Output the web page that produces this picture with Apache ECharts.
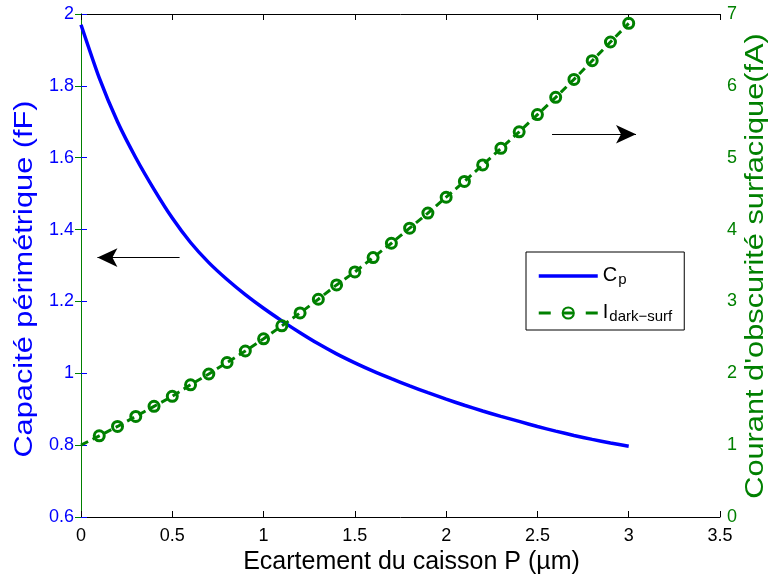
<!DOCTYPE html>
<html>
<head>
<meta charset="utf-8">
<script src="https://cdn.jsdelivr.net/npm/echarts@6/dist/echarts.min.js"></script>
<style>
  html, body { margin: 0; padding: 0; background: #ffffff; }
  #chart { width: 770px; height: 579px; }
</style>
</head>
<body>
<div id="chart"></div>
<script>
// Well spacing P (µm)
const spacing = [0, 0.1, 0.2, 0.3, 0.4, 0.5, 0.6, 0.7, 0.8, 0.9, 1.0,
                 1.1, 1.2, 1.3, 1.4, 1.5, 1.6, 1.7, 1.8, 1.9, 2.0,
                 2.1, 2.2, 2.3, 2.4, 2.5, 2.6, 2.7, 2.8, 2.9, 3.0];

// Perimeter capacitance Cp (fF)
const capacitance = [1.970, 1.822, 1.700, 1.600, 1.512, 1.432, 1.364, 1.308, 1.261, 1.219, 1.181,
                     1.146, 1.113, 1.082, 1.054, 1.029, 1.006, 0.985, 0.965, 0.946, 0.928,
                     0.911, 0.895, 0.880, 0.866, 0.852, 0.839, 0.827, 0.816, 0.806, 0.797];

// Surface dark current (fA)
const darkCurrent = [1.00, 1.13, 1.26, 1.40, 1.54, 1.68, 1.84, 1.99, 2.15, 2.31, 2.48,
                     2.66, 2.84, 3.03, 3.23, 3.41, 3.61, 3.81, 4.02, 4.23, 4.45,
                     4.67, 4.90, 5.13, 5.36, 5.60, 5.84, 6.09, 6.35, 6.61, 6.87];

// Annotation arrows, in data units: [tailX, headX, y] on each y axis
const leftArrow = [0.54, 0.09, 1.322];
const rightArrow = [2.58, 3.04, 5.326];

// Axis titles
const xTitle = 'Ecartement du caisson P (µm)';
const leftTitle = 'Capacité périmétrique (fF)';
const rightTitle = "Courant d'obscurité surfacique(fA)";

const BLUE = '#0000ff';
const GREEN = '#008000';
const FONT = '"Liberation Sans", Arial, Helvetica, sans-serif';

const capData = spacing.map((x, i) => [x, capacitance[i]]);
const darkData = spacing.map((x, i) => i === 0
  ? { value: [x, darkCurrent[i]], symbol: 'none' }
  : [x, darkCurrent[i]]);

const chart = echarts.init(document.getElementById('chart'), null, { renderer: 'canvas' });

const xCommon = {
  type: 'value', min: 0, max: 3.5, interval: 0.5,
  splitLine: { show: false },
  axisLine: { lineStyle: { color: '#000', width: 1 } },
  axisTick: { inside: true, length: 6, lineStyle: { color: '#000' } }
};

// Vertical axis titles are drawn as rotated text, slightly stretched along the reading direction
function verticalTitle(text, cx, cy, color) {
  return {
    type: 'text',
    x: cx, y: cy,
    rotation: Math.PI / 2,
    scaleX: 1.23,
    silent: true,
    style: {
      text: text,
      font: '25px ' + FONT,
      fill: color,
      align: 'center',
      verticalAlign: 'middle'
    }
  };
}

chart.setOption({
  animation: false,
  textStyle: { fontFamily: FONT },
  grid: { left: 81, right: 50, top: 14, bottom: 62, outerBoundsMode: 'none', containLabel: false },
  graphic: [
    verticalTitle(leftTitle, 25, 279, BLUE),
    verticalTitle(rightTitle, 756, 266, GREEN)
  ],
  xAxis: [
    Object.assign({}, xCommon, {
      position: 'bottom',
      name: xTitle,
      nameLocation: 'middle',
      nameGap: 25,
      nameTextStyle: { fontSize: 25, color: '#000', fontFamily: FONT, verticalAlign: 'top', padding: [0, 0, 0, 22] },
      axisLabel: { fontSize: 18, color: '#000', margin: 10, fontFamily: FONT }
    }),
    Object.assign({}, xCommon, {
      position: 'top',
      axisLabel: { show: false }
    })
  ],
  yAxis: [
    {
      type: 'value', position: 'left', min: 0.6, max: 2, interval: 0.2,
      splitLine: { show: false },
      axisLine: { show: true, lineStyle: { color: BLUE, width: 1 } },
      axisTick: { show: true, inside: true, length: 6, lineStyle: { color: BLUE } },
      axisLabel: { fontSize: 18, color: BLUE, margin: 7, fontFamily: FONT }
    },
    {
      type: 'value', position: 'right', min: 0, max: 7, interval: 1,
      splitLine: { show: false },
      axisLine: { show: true, lineStyle: { color: GREEN, width: 1 } },
      axisTick: { show: true, inside: true, length: 6, lineStyle: { color: GREEN } },
      axisLabel: { fontSize: 18, color: GREEN, margin: 7, fontFamily: FONT }
    }
  ],
  legend: {
    orient: 'vertical',
    left: 526, top: 252,
    padding: [6, 12, 6, 11],
    itemGap: 8,
    itemWidth: 59,
    itemHeight: 14,
    backgroundColor: '#fff',
    borderColor: '#000',
    borderWidth: 1,
    borderRadius: 0,
    data: [
      { name: 'Cp', itemStyle: { opacity: 0 }, lineStyle: { width: 3.5, color: BLUE } },
      { name: 'Idark', lineStyle: { width: 3, color: GREEN, type: [12, 12, 11, 12, 12, 100] } }
    ],
    formatter: function (name) {
      return name === 'Cp' ? '{m|C}{s|p}' : '{m|I}{s|dark\u2212surf}';
    },
    textStyle: {
      color: '#000',
      rich: {
        m: { fontSize: 20, lineHeight: 22, verticalAlign: 'top', fontFamily: FONT, color: '#000' },
        s: { fontSize: 15, lineHeight: 16, padding: [14, 0, 0, 1], verticalAlign: 'bottom', fontFamily: FONT, color: '#000' }
      }
    }
  },
  series: [
    {
      name: 'Cp',
      type: 'line',
      xAxisIndex: 0, yAxisIndex: 0,
      data: capData,
      smooth: 0.2,
      symbol: 'none',
      lineStyle: { color: BLUE, width: 3.5 },
      itemStyle: { color: BLUE },
      z: 2,
      markLine: {
        silent: true,
        symbol: ['none', 'arrow'],
        symbolSize: [14, 20],
        label: { show: false },
        lineStyle: { color: '#000', width: 1, type: 'solid' },
        data: [
          [{ coord: [leftArrow[0], leftArrow[2]] }, { coord: [leftArrow[1], leftArrow[2]] }]
        ]
      }
    },
    {
      name: 'Idark',
      type: 'line',
      xAxisIndex: 0, yAxisIndex: 1,
      data: darkData,
      symbol: 'circle',
      symbolSize: 10,
      lineStyle: { color: GREEN, width: 3, type: [8, 5] },
      itemStyle: { color: 'rgba(255,255,255,0)', borderColor: GREEN, borderWidth: 3 },
      z: 3,
      markLine: {
        silent: true,
        symbol: ['none', 'arrow'],
        symbolSize: [14, 20],
        label: { show: false },
        lineStyle: { color: '#000', width: 1, type: 'solid' },
        data: [
          [{ coord: [rightArrow[0], rightArrow[2]] }, { coord: [rightArrow[1], rightArrow[2]] }]
        ]
      }
    }
  ]
});
</script>
</body>
</html>
